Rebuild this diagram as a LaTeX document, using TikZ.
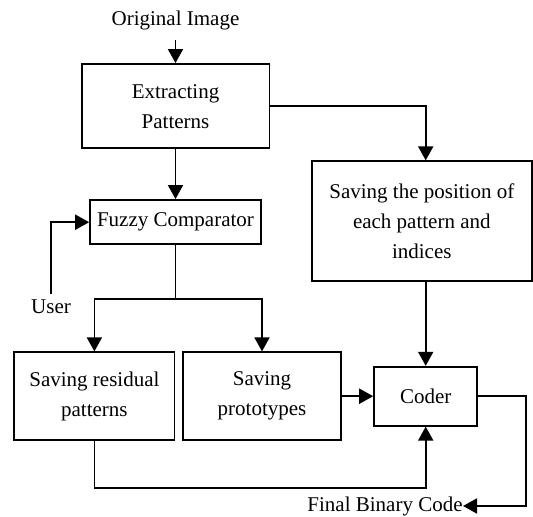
\documentclass[tikz,border=0pt]{standalone}
\usepackage{fontspec}
\setmainfont{Liberation Serif}
\usetikzlibrary{arrows.meta,positioning,calc}

\begin{document}
\begin{tikzpicture}[x=0.5pt, y=-0.5pt,
    every node/.style={font=\fontsize{10.5}{15}\selectfont, align=center, inner sep=0pt},
    blockbox/.style={draw, line width=0.9pt},
    flow/.style={line width=0.9pt, -{Triangle[length=7pt,width=7.5pt]}}]
  \useasboundingbox (0,0) rectangle (533,517);

  % Boxes
  \node[blockbox, minimum width=93.9pt, minimum height=42.2pt] (extract) at (175.5,106.2) {Extracting\\Patterns};
  \node[blockbox, minimum width=85.4pt, minimum height=22.2pt] (fuzzy) at (175.5,222.2) {Fuzzy Comparator};
  \node[blockbox, minimum width=110.2pt, minimum height=59.9pt] (pos) at (421.8,221.2) {Saving the position of\\each pattern and\\indices};
  \node[blockbox, minimum width=80.1pt, minimum height=43.9pt] (residual) at (94.4,396.2) {Saving residual\\patterns};
  \node[blockbox, minimum width=79.3pt, minimum height=43.9pt] (proto) at (262,396.2) {Saving\\prototypes};
  \node[blockbox, minimum width=51.6pt, minimum height=29.5pt] (coder) at (425.7,396.2) {Coder};

  % Labels
  \node (orig) at (175.5,20) {Original Image};
  \node (user) at (51,307) {User};
  \node[anchor=east] (final) at (463,506) {Final Binary Code};

  % Arrows
  \draw[flow] (orig.south) ++(0,10) -- (extract.north);
  \draw[flow] (extract.south) -- (fuzzy.north);
  \draw[flow] (extract.east) -| (pos.north -| coder.north);
  \draw[flow] ([yshift=3pt]user.north) |- (fuzzy.west);
  \coordinate (split) at ($(fuzzy.south)+(0,53.5)$);
  \draw[line width=0.9pt] (fuzzy.south) -- (split);
  \draw[flow] (split) -| (residual.north);
  \draw[flow] (split) -| (proto.north);
  \draw[flow] (pos.south -| coder.north) -- (coder.north);
  \draw[flow] (proto.east) -- (coder.west);
  \draw[flow] (residual.south) -- ++(0,47.3) -| (coder.south);
  \draw[flow] (coder.east) -- ++(47.8,0) |- (final.east);
\end{tikzpicture}
\end{document}
